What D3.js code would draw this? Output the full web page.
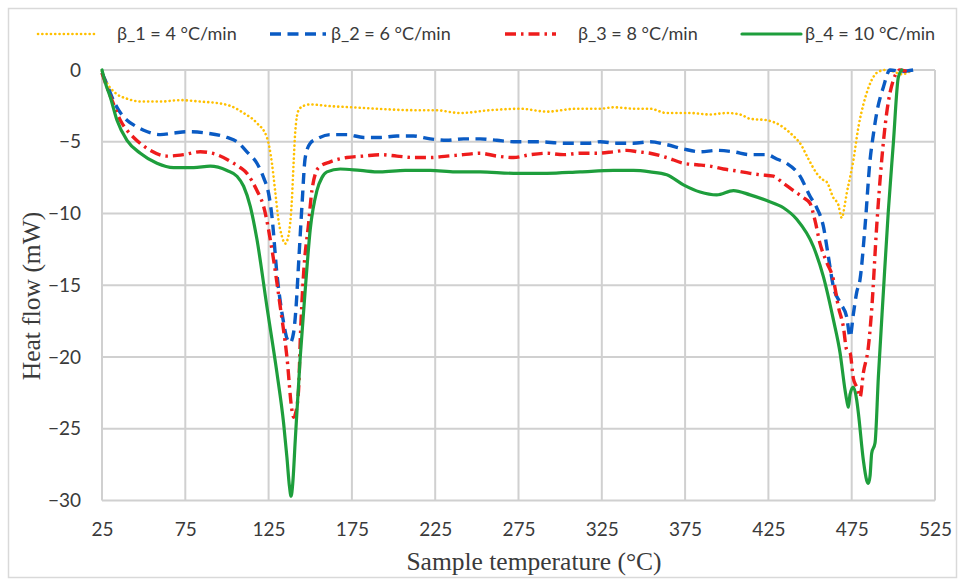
<!DOCTYPE html>
<html>
<head>
<meta charset="utf-8">
<script src="https://cdn.jsdelivr.net/npm/d3@7"></script>
<style>
  html, body { margin: 0; padding: 0; background: #fff; }
  svg { display: block; }
</style>
</head>
<body>
<svg id="chart" width="965" height="579"></svg>
<script>
// DSC heat-flow curves, temperature (°C) vs heat flow (mW), per heating rate
const seriesNames = ["β_1 = 4 °C/min", "β_2 = 6 °C/min", "β_3 = 8 °C/min", "β_4 = 10 °C/min"];

const beta1 = [[25,-0.1],[28,-0.9],[33,-1.6],[40,-2.0],[49,-2.2],[60,-2.2],[72,-2.1],[84,-2.2],[94,-2.3],[102,-2.5],[110,-3.0],[118,-3.7],[124,-4.7],[127,-6.5],[129,-8.5],[131,-10.5],[133,-11.6],[135,-12.1],[137,-11.5],[139,-9.0],[140,-6.5],[141,-4.3],[143,-2.8],[146,-2.5],[150,-2.4],[160,-2.5],[175,-2.6],[190,-2.7],[212,-2.8],[225,-2.8],[240,-3.0],[258,-2.8],[276,-2.7],[292,-2.9],[310,-2.7],[324,-2.7],[332,-2.6],[345,-2.7],[354,-2.7],[364,-3.0],[378,-3.0],[390,-3.1],[400,-3.0],[408,-3.1],[414,-3.4],[424,-3.5],[434,-4.0],[440,-4.6],[444,-5.1],[449,-6.2],[454,-7.2],[457,-7.6],[460,-7.8],[464,-8.9],[467,-9.4],[469,-10.3],[471,-9.3],[472,-8.6],[474,-7.5],[476,-6.3],[479,-4.0],[482,-2.4],[484,-1.6],[487,-0.7],[490,-0.2],[495,0],[500,-0.1],[505,-0.3],[510,-0.1]];

const beta2 = [[25,-0.2],[28,-1.0],[31,-1.9],[35,-2.8],[40,-3.5],[45,-3.9],[50,-4.2],[60,-4.5],[68,-4.4],[76,-4.3],[88,-4.4],[100,-4.7],[106,-5.0],[112,-5.7],[118,-6.5],[122,-7.5],[125,-8.6],[127,-10.2],[130,-14.2],[134,-17.6],[136,-18.7],[138,-19.0],[140,-18.3],[141.5,-16.5],[143,-13.5],[145,-9.5],[147,-6.1],[150,-5.1],[154,-4.8],[162,-4.5],[172,-4.5],[182,-4.7],[192,-4.7],[202,-4.6],[212,-4.6],[222,-4.8],[232,-4.9],[242,-4.8],[252,-4.8],[262,-4.9],[272,-5.0],[287,-5.0],[302,-5.1],[317,-5.1],[324,-5.0],[334,-5.1],[344,-5.1],[354,-5.0],[364,-5.2],[374,-5.5],[384,-5.7],[394,-5.6],[404,-5.7],[414,-5.9],[424,-5.9],[430,-6.2],[436,-6.5],[444,-7.4],[450,-8.8],[454,-9.6],[458,-10.9],[461,-13.0],[464,-15.1],[468,-16.2],[472,-17.2],[474,-18.6],[476,-17.0],[478,-15.5],[480,-14.6],[483,-10.9],[486,-6.3],[488,-4.5],[490,-3.0],[494,-1.2],[498,0],[505,-0.1],[512,0]];

const beta3 = [[25,-0.2],[28,-1.2],[32,-2.4],[36,-3.5],[40,-4.2],[44,-4.7],[50,-5.3],[54,-5.6],[64,-6.0],[74,-5.9],[84,-5.7],[94,-5.9],[104,-6.5],[108,-6.8],[112,-7.2],[118,-8.4],[122,-9.5],[127,-12.5],[132,-16.5],[136,-20.0],[139,-23.7],[140,-24.2],[141,-24.0],[143,-22.3],[144,-18.8],[146,-14.2],[149,-10.7],[151,-8.4],[155,-6.8],[162,-6.4],[172,-6.1],[182,-6.0],[192,-5.9],[202,-6.0],[212,-6.1],[222,-6.1],[232,-6.0],[242,-5.9],[252,-5.8],[262,-6.0],[272,-6.1],[282,-5.9],[292,-5.8],[302,-5.9],[312,-5.8],[322,-5.8],[332,-5.7],[340,-5.6],[347,-5.7],[354,-5.8],[364,-6.1],[374,-6.5],[382,-6.6],[390,-6.7],[398,-6.9],[404,-7.0],[414,-7.2],[420,-7.3],[428,-7.4],[434,-7.9],[440,-8.4],[446,-8.9],[450,-9.3],[453,-10.5],[456,-12.1],[460,-13.4],[464,-14.6],[467,-16.5],[470,-17.9],[472,-19.5],[474,-19.7],[476,-21.5],[478,-22.1],[480,-22.8],[482,-21.1],[485,-19.3],[487,-16.7],[490,-10.9],[493,-6.3],[496,-3.0],[500,-0.7],[504,0],[508,-0.1]];

const beta4 = [[25,0],[27,-0.9],[30,-1.9],[34,-3.5],[40,-4.9],[48,-5.8],[58,-6.5],[68,-6.8],[80,-6.8],[90,-6.7],[100,-7.0],[106,-7.4],[110,-8.1],[114,-9.5],[118,-11.8],[124,-16.5],[130,-21.1],[134,-24.6],[136,-27.0],[137.5,-29.0],[138.5,-29.7],[139.5,-28.8],[141,-25.8],[144,-20.0],[147,-15.3],[150,-11.1],[154,-8.4],[157,-7.5],[160,-7.1],[168,-6.9],[180,-7.0],[192,-7.1],[207,-7.0],[222,-7.0],[237,-7.1],[252,-7.1],[272,-7.2],[292,-7.2],[312,-7.1],[332,-7.0],[344,-7.0],[354,-7.1],[364,-7.3],[374,-8.0],[384,-8.5],[394,-8.7],[404,-8.4],[414,-8.7],[424,-9.1],[434,-9.6],[442,-10.4],[452,-12.3],[458,-14.4],[464,-17.4],[468,-19.7],[471,-22.3],[472,-23.0],[473,-23.5],[474,-22.6],[476,-22.1],[478,-23.0],[479,-23.9],[482,-27.2],[484,-28.6],[485,-28.8],[486,-28.3],[487,-26.7],[489,-26.0],[491,-21.4],[494,-15.5],[497,-9.8],[500,-5.1],[503,-0.5],[505,0]];

const xTicks = [25, 75, 125, 175, 225, 275, 325, 375, 425, 475, 525];
const yTicks = [0, -5, -10, -15, -20, -25, -30];

const svg = d3.select("#chart");
const W = 965, H = 579;
const plot = { left: 102, right: 935, top: 70, bottom: 500.5 };

// outer chart frame
svg.append("rect")
  .attr("x", 8.5).attr("y", 8.5)
  .attr("width", W - 17).attr("height", H - 10)
  .attr("fill", "#fff").attr("stroke", "#d9d9d9").attr("stroke-width", 1.5);

const x = d3.scaleLinear().domain([25, 525]).range([plot.left, plot.right]);
const y = d3.scaleLinear().domain([-30, 0]).range([plot.bottom, plot.top]);

// gridlines
const grid = svg.append("g").attr("stroke", "#d0d0d0").attr("stroke-width", 2);
grid.selectAll(".gx").data(xTicks).join("line")
  .attr("x1", d => x(d)).attr("x2", d => x(d))
  .attr("y1", plot.top).attr("y2", plot.bottom);
grid.selectAll(".gy").data(yTicks).join("line")
  .attr("x1", plot.left).attr("x2", plot.right)
  .attr("y1", d => y(d)).attr("y2", d => y(d));

// axes (labels only; gridlines form the frame)
const tickFont = "Lato, 'Open Sans', sans-serif";
const xAxis = svg.append("g")
  .attr("transform", `translate(0,${plot.bottom})`)
  .call(d3.axisBottom(x).tickValues(xTicks).tickSize(0).tickPadding(22));
const yAxis = svg.append("g")
  .attr("transform", `translate(${plot.left},0)`)
  .call(d3.axisLeft(y).tickValues(yTicks).tickSize(0).tickPadding(21));
[xAxis, yAxis].forEach(a => {
  a.select(".domain").remove();
  a.selectAll("text").attr("font-family", tickFont).attr("font-size", 19).attr("fill", "#3a3a3a");
});

// series lines
const line = d3.line().x(d => x(d[0])).y(d => y(d[1])).curve(d3.curveMonotoneX);
const styles = [
  { color: "#FFC000", width: 2.6, dash: "0.1,4.2", cap: "round" },
  { color: "#0A5BC4", width: 3.4, dash: "11,6.5", cap: "butt" },
  { color: "#EE1C1C", width: 3.4, dash: "11,5,2.5,5", cap: "butt" },
  { color: "#1E9E3C", width: 3.2, dash: null, cap: "round" }
];
const allSeries = [beta1, beta2, beta3, beta4];
svg.append("g").selectAll("path").data(allSeries).join("path")
  .attr("d", line)
  .attr("fill", "none")
  .attr("stroke", (d, i) => styles[i].color)
  .attr("stroke-width", (d, i) => styles[i].width)
  .attr("stroke-dasharray", (d, i) => styles[i].dash)
  .attr("stroke-linecap", (d, i) => styles[i].cap)
  .attr("stroke-linejoin", "round");

// legend
const legendPos = [
  { x1: 38, x2: 96, tx: 117 },
  { x1: 270, x2: 326, tx: 331 },
  { x1: 505, x2: 556, tx: 578 },
  { x1: 742, x2: 801, tx: 805 }
];
const legendY = 34;
const lg = svg.append("g");
seriesNames.forEach((name, i) => {
  const p = legendPos[i], s = styles[i];
  lg.append("line")
    .attr("x1", p.x1).attr("x2", p.x2).attr("y1", legendY).attr("y2", legendY)
    .attr("stroke", s.color).attr("stroke-width", s.width)
    .attr("stroke-dasharray", s.dash).attr("stroke-linecap", s.cap);
  lg.append("text")
    .attr("x", p.tx).attr("y", legendY).attr("dy", "0.35em")
    .attr("font-family", tickFont).attr("font-size", 18).attr("fill", "#3a3a3a")
    .text(name);
});

// axis titles
const titleFont = "'Liberation Serif', 'Times New Roman', serif";
svg.append("text")
  .attr("x", 534).attr("y", 570)
  .attr("text-anchor", "middle")
  .attr("font-family", titleFont)
  .attr("font-size", 25.5).attr("fill", "#3a3a3a")
  .text("Sample temperature (°C)");
svg.append("text")
  .attr("transform", "translate(40,296) rotate(-90)")
  .attr("text-anchor", "middle")
  .attr("font-family", titleFont)
  .attr("font-size", 25.5).attr("fill", "#3a3a3a")
  .text("Heat flow (mW)");
</script>
</body>
</html>
